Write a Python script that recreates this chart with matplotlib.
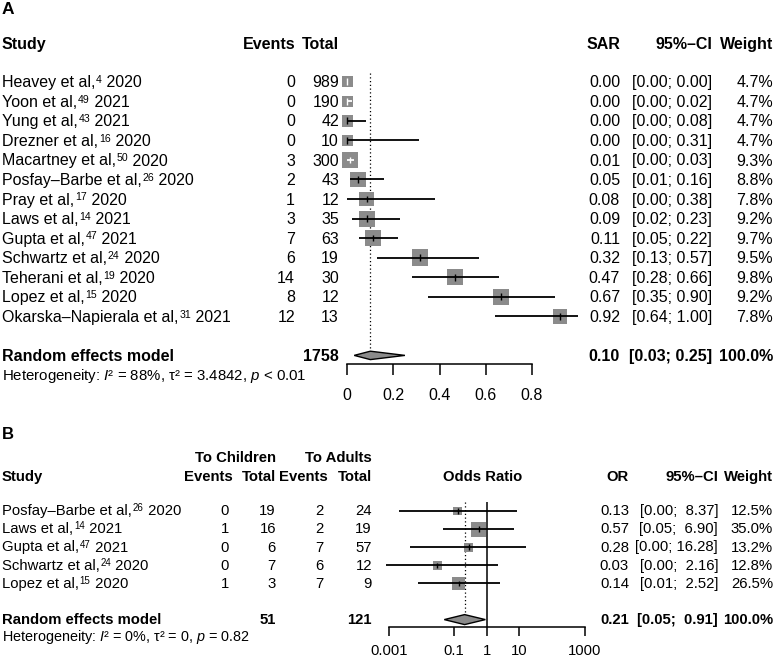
import numpy as np
import matplotlib
matplotlib.use("Agg")
import matplotlib.pyplot as plt
from matplotlib.patches import Polygon
from matplotlib.ticker import NullLocator

plt.rcParams['font.family'] = ['Liberation Sans', 'DejaVu Sans']
plt.rcParams['mathtext.fontset'] = 'custom'
plt.rcParams['mathtext.rm'] = 'Liberation Sans'
plt.rcParams['mathtext.it'] = 'Liberation Sans:italic'
plt.rcParams['mathtext.bf'] = 'Liberation Sans:bold'

# ---- panel A: secondary attack rate ----
a_authors = ["Heavey et al,", "Yoon et al,", "Yung et al,", "Drezner et al,", "Macartney et al,",
             "Posfay–Barbe et al,", "Pray et al,", "Laws et al,", "Gupta et al,",
             "Schwartz et al,", "Teherani et al,", "Lopez et al,", "Okarska–Napierala et al,"]
a_refs = [4, 49, 43, 16, 50, 26, 17, 14, 47, 24, 19, 15, 31]
a_years = [2020, 2021, 2021, 2020, 2020, 2020, 2020, 2021, 2021, 2020, 2020, 2020, 2021]
a_events = [0, 0, 0, 0, 3, 2, 1, 3, 7, 6, 14, 8, 12]
a_total = [989, 190, 42, 10, 300, 43, 12, 35, 63, 19, 30, 12, 13]
a_lower = [0.00, 0.00, 0.00, 0.00, 0.00, 0.01, 0.00, 0.02, 0.05, 0.13, 0.28, 0.35, 0.64]
a_upper = [0.00, 0.02, 0.08, 0.31, 0.03, 0.16, 0.38, 0.23, 0.22, 0.57, 0.66, 0.90, 1.00]
a_weight = [4.7, 4.7, 4.7, 4.7, 9.3, 8.8, 7.8, 9.2, 9.7, 9.5, 9.8, 9.2, 7.8]
a_pooled = [0.10, 0.03, 0.25]
a_ticks = [0, 0.2, 0.4, 0.6, 0.8]
a_ticklabels = ['0', '0.2', '0.4', '0.6', '0.8']
a_het = "Heterogeneity: $\\mathit{I}$² = 88%, τ² = 3.4842, $\\mathit{p}$ < 0.01"

# ---- panel B: children vs adults ----
b_authors = ["Posfay–Barbe et al,", "Laws et al,", "Gupta et al,", "Schwartz et al,", "Lopez et al,"]
b_refs = [26, 14, 47, 24, 15]
b_years = [2020, 2021, 2021, 2020, 2020]
b_ev_child = [0, 1, 0, 0, 1]
b_tot_child = [19, 16, 6, 7, 3]
b_ev_adult = [2, 2, 7, 6, 7]
b_tot_adult = [24, 19, 57, 12, 9]
b_or = [0.13, 0.57, 0.28, 0.03, 0.14]
b_lower = [0.002, 0.047, 0.0045, 0.0008, 0.008]
b_upper = [8.37, 6.90, 16.28, 2.16, 2.52]
b_weight = [12.5, 35.0, 13.2, 12.8, 26.5]
b_pooled = [0.21, 0.05, 0.91]
b_ticks = [0.001, 0.1, 1, 10, 1000]
b_ticklabels = ['0.001', '0.1', '1', '10', '1000']
b_het = "Heterogeneity: $\\mathit{I}$² = 0%, τ² = 0, $\\mathit{p}$ = 0.82"

SQ = '#8b8b8b'
W, H = 780, 662
fig = plt.figure(figsize=(W / 100, H / 100), dpi=100)
tax = fig.add_axes([0, 0, 1, 1])
tax.set_xlim(0, W)
tax.set_ylim(H, 0)
tax.axis('off')
renderer = fig.canvas.get_renderer()


def add_ax(x0, x1, y0, y1):
    return fig.add_axes([x0 / W, 1 - y1 / H, (x1 - x0) / W, (y1 - y0) / H])


def txt(x, y, s, ha='right', fs=11.5, bold=False):
    return tax.text(x, y, s, ha=ha, va='baseline', fontsize=fs,
                    fontweight='bold' if bold else 'normal')


def study_label(x, y, author, ref, year, fs):
    # author, raised reference number, then year
    t = txt(x, y, author, ha='left', fs=fs)
    x1 = t.get_window_extent(renderer).x1
    s = txt(x1 + 0.8, y - fs * 0.37, str(ref), ha='left', fs=fs * 0.66)
    x2 = s.get_window_extent(renderer).x1
    txt(x2, y, ' ' + str(year), ha='left', fs=fs)


def forest(ax, est, lo, hi, weight, k_px, tick_h):
    rows = np.arange(len(est))
    side = k_px * np.sqrt(weight)
    ax.scatter(est, rows, marker='s', s=(side * 0.72) ** 2, color=SQ, linewidths=0,
               zorder=2, clip_on=False)
    for r, e, l, h, sd in zip(rows, est, lo, hi, side):
        ex = ax.transData.transform((e, r))[0]
        lx = ax.transData.transform((l, r))[0]
        hx = ax.transData.transform((h, r))[0]
        inside = (ex - lx) <= sd / 2 and (hx - ex) <= sd / 2
        c = 'white' if inside else 'black'
        ax.hlines(r, l, h, color=c, lw=1.3, zorder=3, clip_on=False)
        ax.vlines(e, r - tick_h, r + tick_h, color=c, lw=1.0, zorder=3, clip_on=False)


def diamond(ax, row, pooled, hh):
    e, l, h = pooled
    ax.add_patch(Polygon([(l, row), (e, row - hh), (h, row), (e, row + hh)], closed=True,
                         facecolor=SQ, edgecolor='black', lw=1.0, zorder=3, clip_on=False))


def style_axis(ax, bounds):
    for sp in ['top', 'left', 'right']:
        ax.spines[sp].set_visible(False)
    ax.spines['bottom'].set_bounds(*bounds)
    ax.spines['bottom'].set_linewidth(1.1)
    ax.set_yticks([])
    ax.patch.set_alpha(0)


# ================= panel A =================
A_Y0, A_DY, A_BL = 81.7, 19.55, 5.6
nA = len(a_authors)
a_est = np.array(a_events) / np.array(a_total)

axA = add_ax(347.3, 577.8, 66, 364)
axA.set_xlim(0, 1)
axA.set_ylim((364 - A_Y0) / A_DY, (66 - A_Y0) / A_DY)
style_axis(axA, (0, 0.8))
axA.set_xticks(a_ticks)
axA.set_xticklabels(a_ticklabels)
axA.tick_params(axis='x', length=7.9, width=1.1, pad=9.5, labelsize=11.5)

forest(axA, a_est, a_lower, a_upper, a_weight, 5.3, 0.17)
a_hh = 4.2 / A_DY
diamond(axA, nA + 1, a_pooled, a_hh)
axA.vlines(a_pooled[0], (73 - A_Y0) / A_DY, nA + 1 - a_hh, color='black', lw=0.9,
           linestyles=(0, (1, 2)), zorder=1)

tax.text(2, 14, 'A', ha='left', va='baseline', fontsize=12.5, fontweight='bold')
txt(2, 48.7, 'Study', ha='left', bold=True)
txt(295, 48.7, 'Events', bold=True)
txt(339, 48.7, 'Total', bold=True)
txt(620, 48.7, 'SAR', bold=True)
txt(712, 48.7, '95%–CI', bold=True)
txt(773, 48.7, 'Weight', bold=True)
for i in range(nA):
    y = A_Y0 + A_DY * i + A_BL
    study_label(2, y, a_authors[i], a_refs[i], a_years[i], 11.5)
    txt(295, y, str(a_events[i]))
    txt(339, y, str(a_total[i]))
    txt(620, y, '%.2f' % a_est[i])
    txt(712, y, '[%.2f; %.2f]' % (a_lower[i], a_upper[i]))
    txt(773, y, '%.1f%%' % a_weight[i])
y = A_Y0 + A_DY * (nA + 1) + A_BL
txt(2, y, 'Random effects model', ha='left', bold=True)
txt(339, y, str(sum(a_total)), bold=True)
txt(620, y, '%.2f' % a_pooled[0], bold=True)
txt(712, y, '[%.2f; %.2f]' % (a_pooled[1], a_pooled[2]), bold=True)
txt(773, y, '100.0%', bold=True)
txt(2, A_Y0 + A_DY * (nA + 2) + A_BL - 0.5, a_het, ha='left', fs=10.8)

# ================= panel B =================
B_Y0, B_DY, B_BL = 511.0, 18.1, 4.3
nB = len(b_authors)
FB = 10.7

axB = add_ax(385.64, 584.5, 496, 627.3)
axB.set_xscale('log')
axB.set_xlim(10 ** -3.1, 1000)
axB.set_ylim((627.3 - B_Y0) / B_DY, (496 - B_Y0) / B_DY)
style_axis(axB, (0.001, 1000))
axB.set_xticks(b_ticks)
axB.set_xticklabels(b_ticklabels)
axB.xaxis.set_minor_locator(NullLocator())
axB.tick_params(axis='x', length=6.8, width=1.1, pad=5.5, labelsize=FB)

forest(axB, b_or, b_lower, b_upper, b_weight, 2.53, 0.15)
b_hh = 5.0 / B_DY
diamond(axB, nB + 1, b_pooled, b_hh)
top_b = (501.7 - B_Y0) / B_DY
axB.vlines(1, top_b, (627.3 - B_Y0) / B_DY, color='black', lw=1.1, zorder=1)
axB.vlines(b_pooled[0], top_b, nB + 1 - b_hh, color='black', lw=0.9,
           linestyles=(0, (1, 2)), zorder=1)

tax.text(2, 439, 'B', ha='left', va='baseline', fontsize=12, fontweight='bold')
txt(276, 462.3, 'To Children', fs=FB, bold=True)
txt(372, 462.3, 'To Adults', fs=FB, bold=True)
hy = 480.7
txt(2, hy, 'Study', ha='left', fs=FB, bold=True)
txt(233, hy, 'Events', fs=FB, bold=True)
txt(276, hy, 'Total', fs=FB, bold=True)
txt(328, hy, 'Events', fs=FB, bold=True)
txt(372, hy, 'Total', fs=FB, bold=True)
txt(482.5, hy, 'Odds Ratio', ha='center', fs=FB, bold=True)
txt(629, hy, 'OR', fs=FB, bold=True)
txt(718, hy, '95%–CI', fs=FB, bold=True)
txt(773, hy, 'Weight', fs=FB, bold=True)
for i in range(nB):
    y = B_Y0 + B_DY * i + B_BL
    study_label(2, y, b_authors[i], b_refs[i], b_years[i], FB)
    txt(229, y, str(b_ev_child[i]), fs=FB)
    txt(276, y, str(b_tot_child[i]), fs=FB)
    txt(323, y, str(b_ev_adult[i]), fs=FB)
    txt(372, y, str(b_tot_adult[i]), fs=FB)
    txt(629, y, '%.2f' % b_or[i], fs=FB)
    txt(718, y, '[%.2f; %5.2f]' % (b_lower[i], b_upper[i]), fs=FB)
    txt(773, y, '%.1f%%' % b_weight[i], fs=FB)
y = B_Y0 + B_DY * (nB + 1) + B_BL
txt(2, y, 'Random effects model', ha='left', fs=FB, bold=True)
txt(276, y, str(sum(b_tot_child)), fs=FB, bold=True)
txt(372, y, str(sum(b_tot_adult)), fs=FB, bold=True)
txt(629, y, '%.2f' % b_pooled[0], fs=FB, bold=True)
txt(718, y, '[%.2f; %5.2f]' % (b_pooled[1], b_pooled[2]), fs=FB, bold=True)
txt(773, y, '100.0%', fs=FB, bold=True)
txt(2, B_Y0 + B_DY * (nB + 2) + B_BL - 0.5, b_het, ha='left', fs=10.4)

fig.savefig('out.png', dpi=100)
